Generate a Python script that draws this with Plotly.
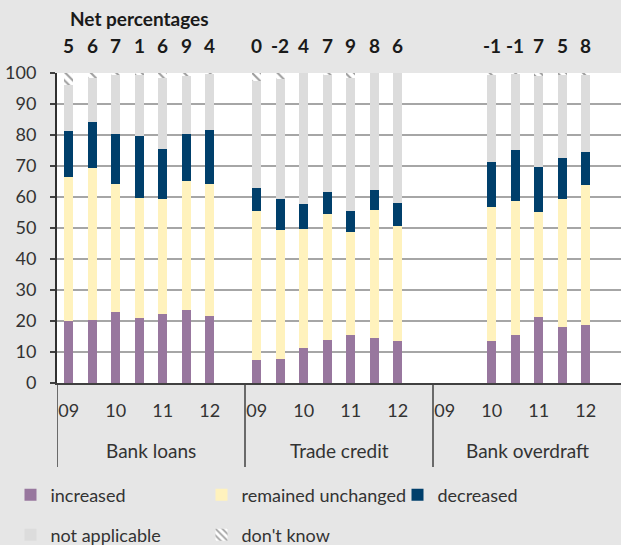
import plotly.graph_objects as go

# ---- data ----
groups = ["Bank loans", "Trade credit", "Bank overdraft"]
period_labels = ["09", "", "10", "", "11", "", "12", ""]   # 8 half-year slots per group

# values per slot: Bank loans (8) | Trade credit (8) | Bank overdraft (8); None = no survey data
increased = [20.0, 20.4, 22.9, 21.0, 22.1, 23.7, 21.6, None,
             7.3, 7.9, 11.3, 13.8, 15.6, 14.6, 13.6, None,
             None, None, 13.4, 15.4, 21.2, 18.2, 18.7, None]
unchanged = [46.3, 48.8, 41.4, 38.8, 37.1, 41.4, 42.7, None,
             48.2, 41.4, 38.5, 40.8, 33.1, 41.3, 36.9, None,
             None, None, 43.4, 43.3, 33.9, 41.0, 45.1, None]
decreased = [14.9, 14.9, 16.0, 19.8, 16.2, 15.2, 17.3, None,
             7.5, 10.2, 7.8, 7.1, 6.8, 6.3, 7.7, None,
             None, None, 14.4, 16.6, 14.5, 13.3, 10.8, None]
not_applicable = [14.8, 14.2, 19.2, 19.9, 23.1, 18.7, 18.1, None,
                  34.5, 38.5, 42.4, 37.8, 43.0, 37.8, 41.8, None,
                  None, None, 28.3, 24.4, 29.4, 27.0, 24.9, None]
dont_know = [4.0, 1.7, 0.5, 0.5, 1.5, 1.0, 0.3, None,
             2.5, 2.0, 0.0, 0.5, 1.5, 0.0, 0.0, None,
             None, None, 0.5, 0.3, 1.0, 0.5, 0.5, None]
net_percentages = ["5", "6", "7", "1", "6", "9", "4", "",
                   "0", "-2", "4", "7", "9", "8", "6", "",
                   "", "", "-1", "-1", "7", "5", "8", ""]

n_slots = len(period_labels)
x = list(range(len(groups) * n_slots))

FONT = "Lato, 'Open Sans', sans-serif"
TXT = "#333333"

series = [
    ("increased", increased, "#98779e"),
    ("remained unchanged", unchanged, "#fff2bd"),
    ("decreased", decreased, "#003f6b"),
    ("not applicable", not_applicable, "#dcdcdc"),
]
legend_ids = ["legend", "legend2", "legend3", "legend4", "legend5"]
# legend slot (pixel) positions: 3 entries on first row, 2 on second
legend_pos = [(10.5, 495), (201.5, 495), (397.5, 495), (10.5, 535), (201.5, 535)]

fig = go.Figure()
for (name, vals, col), lg in zip(series, legend_ids):
    fig.add_trace(go.Bar(x=x, y=vals, name=name, marker_color=col, showlegend=True,
                         marker_line_width=0, width=0.4, legend=lg))
fig.add_trace(go.Bar(x=x, y=dont_know, name="don't know", width=0.4, legend=legend_ids[4],
                     showlegend=True,
                     marker=dict(color="white", line_width=0,
                                 pattern=dict(shape="\\", fgcolor="#3c3c3c", bgcolor="white",
                                              size=6, solidity=0.35))))

# net percentage labels above bars
for xi, t in zip(x, net_percentages):
    if t:
        fig.add_annotation(x=xi, y=1.09, xref="x", yref="paper", text=t, showarrow=False,
                           font=dict(family=FONT, size=19, color="#1a1a1a", weight="bold"),
                           yanchor="middle")
fig.add_annotation(x=3, y=1.177, xref="x", yref="paper", text="Net percentages",
                   showarrow=False, yanchor="middle",
                   font=dict(family=FONT, size=19, color="#1a1a1a", weight="bold"))

# group labels and separators
for g, name in enumerate(groups):
    fig.add_annotation(x=g * n_slots + (n_slots - 1) / 2, y=-0.219, xref="x", yref="paper",
                       text=name, showarrow=False, yanchor="middle",
                       font=dict(family=FONT, size=19, color=TXT))
    fig.add_shape(type="line", xref="x", yref="paper",
                  x0=g * n_slots - 0.5, x1=g * n_slots - 0.5, y0=0, y1=-0.271,
                  line=dict(color="#404040", width=1.5))

tickvals = [xi for xi in x if period_labels[xi % n_slots]]
ticktext = [period_labels[xi % n_slots] for xi in tickvals]

W, H = 621, 545
legends = {}
for lg, (px, py) in zip(legend_ids, legend_pos):
    legends[lg] = dict(orientation="h", xref="container", yref="container",
                       x=px / W, y=1 - py / H, xanchor="left", yanchor="middle",
                       bgcolor="rgba(0,0,0,0)",
                       font=dict(family=FONT, size=18, color=TXT))

fig.update_layout(
    width=W, height=H,
    showlegend=True,
    margin=dict(l=57, r=0, t=73, b=162),
    paper_bgcolor="#e6e6e6", plot_bgcolor="white",
    barmode="stack", bargap=0,
    font=dict(family=FONT, size=18, color=TXT),
    xaxis=dict(range=[-0.5, len(x) - 0.5], tickvals=tickvals, ticktext=ticktext,
               ticks="", ticklabelstandoff=11, showgrid=False, zeroline=False,
               automargin=False,
               showline=True, linecolor="#404040", linewidth=1.5,
               tickfont=dict(family=FONT, size=18, color=TXT)),
    yaxis=dict(range=[0, 100], dtick=10, showgrid=True, gridcolor="#a6a6a6", gridwidth=1.5,
               ticks="outside", ticklen=5, tickcolor="#404040", tickwidth=1.5,
               ticklabelstandoff=10, zeroline=False, automargin=False,
               showline=True, linecolor="#303030", linewidth=2,
               tickfont=dict(family=FONT, size=18, color=TXT)),
    **legends,
)

fig.write_html("out.html", config={"displayModeBar": False},
               post_script="document.body.style.margin='0';document.body.style.padding='0';")
